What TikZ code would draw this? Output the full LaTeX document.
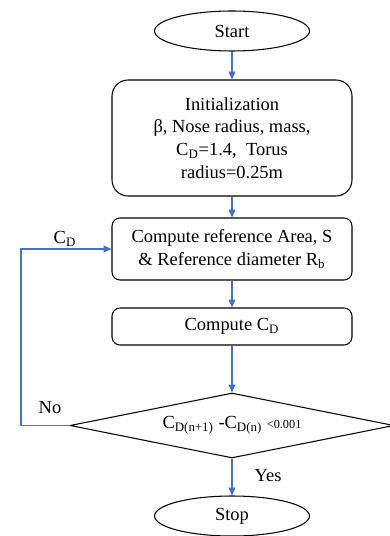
\documentclass[tikz,border=0pt]{standalone}
\usepackage{fontspec}
\setmainfont{Liberation Serif}
\usetikzlibrary{shapes.geometric,arrows.meta}
\definecolor{flowblue}{RGB}{68,114,196}
\begin{document}
\begin{tikzpicture}[x=0.02cm, y=-0.02cm,
	every node/.style={font=\fontsize{10.5}{13}\selectfont},
	term/.style={draw, ellipse, line width=0.6pt, minimum width=3.1cm, minimum height=0.8cm, inner sep=0pt},
	proc/.style={draw, rounded corners=0.16cm, line width=0.6pt, minimum width=4.8cm, align=center, inner sep=0pt},
	dec/.style={draw, diamond, aspect=5, line width=0.6pt, minimum width=6.48cm, minimum height=1.3cm, inner sep=0pt},
	flow/.style={draw=flowblue, line width=0.6pt, -{Triangle[width=4pt,length=4.5pt]}}]
	\useasboundingbox (0, 0) rectangle (389, 536);
	\node[term] (start) at (232, 31) {Start};
	\node[proc, rounded corners=0.32cm, minimum height=2.32cm] (init) at (232, 138)
		{Initialization\\ β, Nose radius, mass,\\ C\textsubscript{D}=1.4,\ \ Torus\\ radius=0.25m};
	\node[proc, minimum height=1.24cm] (ref) at (232, 249)
		{Compute\ reference\ Area,\ S\\ \&\ Reference\ diameter R\textsubscript{b}};
	\node[proc, minimum height=0.74cm] (cd) at (232, 326.5) {Compute C\textsubscript{D}};
	\node[dec] (test) at (232, 425.5)
		{C\textsubscript{D(n+1)} -C\textsubscript{D(n)} {\fontsize{7}{8}\selectfont <0.001}};
	\node[term] (stop) at (232, 516) {Stop};
	\coordinate (back) at (21, 425.5);
	% connectors
	\draw[flow] (start) -- (init);
	\draw[flow] (init) -- (ref);
	\draw[flow] (ref) -- (cd);
	\draw[flow] (cd) -- (test);
	\draw[flow] (test) -- (stop);
	\draw[flow] (test.west) -- (back) |- (ref.west);
	% labels
	\node (lcd) at (65, 239) {C\textsubscript{D}};
	\node (lno) at (50, 408) {No};
	\node (lyes) at (268, 476) {Yes};
\end{tikzpicture}
\end{document}
